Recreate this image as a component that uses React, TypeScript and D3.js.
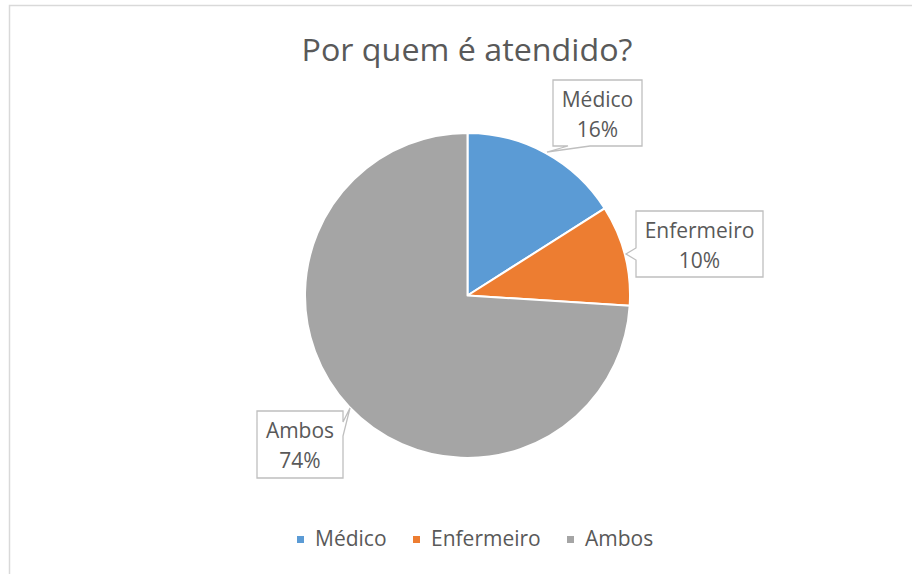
import React from "react";
import * as d3 from "d3";

const categories = ["Médico", "Enfermeiro", "Ambos"];
const values = [16, 10, 74];
const colors = ["#5B9BD5", "#ED7D31", "#A5A5A5"];
const title = "Por quem é atendido?";

const W = 912;
const H = 574;
const FONT = "'Open Sans', sans-serif";
const TXT = "#595959";

export default function App() {
  const cx = 467.5;
  const cy = 295.5;
  const r = 162.5;
  const pie = d3.pie<number>().sort(null).value((d) => d)(values);
  const arc = d3.arc<d3.PieArcDatum<number>>().innerRadius(0).outerRadius(r);
  const total = d3.sum(values);
  const pct = (v: number) => d3.format(".0%")(v / total);

  const callouts = [
    { box: [553, 80, 89, 66], path: (b: number[]) => {
        const [x, y, w, h] = b;
        return `M${x},${y}H${x + w}V${y + h}H${590}L${547},${152}L${568},${y + h}H${x}Z`;
      } },
    { box: [636, 211, 127, 66], path: (b: number[]) => {
        const [x, y, w, h] = b;
        return `M${x},${y}H${x + w}V${y + h}H${x}V${260}L${626},${254}L${x},${248}Z`;
      } },
    { box: [257, 411, 86, 67], path: (b: number[]) => {
        const [x, y, w, h] = b;
        return `M${x},${y}H${x + w}V${422}L${350},${408}L${x + w},${436}V${y + h}H${x}Z`;
      } },
  ];

  const legendX = [297, 413, 567];

  return (
    <svg width={W} height={H} style={{ position: "absolute", left: 0, top: 0, background: "#fff" }} fontFamily={FONT}>
      <rect x={9.5} y={5.5} width={W + 10} height={H + 10} fill="#fff" stroke="#D9D9D9" strokeWidth={1.5} />
      <text x={467} y={61} textAnchor="middle" fontSize={31} fill={TXT} textLength={331} lengthAdjust="spacingAndGlyphs">{title}</text>
      <g transform={`translate(${cx},${cy})`}>
        {pie.map((p, i) => (
          <path key={i} d={arc(p) || ""} fill={colors[i]} stroke="#fff" strokeWidth={2} strokeLinejoin="round" />
        ))}
      </g>
      {callouts.map((c, i) => {
        const [x, y, w, h] = c.box;
        return (
          <g key={i}>
            <path d={c.path(c.box)} fill="#fff" stroke="#BFBFBF" strokeWidth={1.3} />
            <text x={x + w / 2} y={y + 27} textAnchor="middle" fontSize={21} fill={TXT}>{categories[i]}</text>
            <text x={x + w / 2} y={y + 57} textAnchor="middle" fontSize={21} fill={TXT}>{pct(values[i])}</text>
          </g>
        );
      })}
      {categories.map((c, i) => (
        <g key={c}>
          <rect x={legendX[i]} y={536} width={7} height={7} fill={colors[i]} />
          <text x={legendX[i] + 18} y={546} fontSize={21} fill={TXT}>{c}</text>
        </g>
      ))}
    </svg>
  );
}
